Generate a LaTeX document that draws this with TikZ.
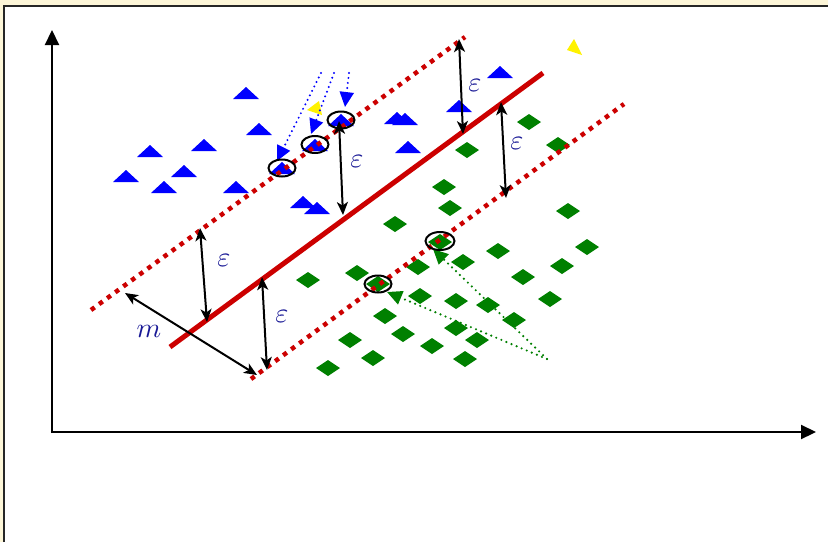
\documentclass[tikz,border=0pt]{standalone}
\usepackage{graphicx}
\usetikzlibrary{arrows.meta}
\definecolor{cream}{RGB}{253,246,216}
\definecolor{svred}{RGB}{204,0,0}
\definecolor{svgreen}{RGB}{0,128,0}
\definecolor{svblue}{RGB}{0,0,255}
\definecolor{labblue}{RGB}{25,25,150}
\newcommand{\biglab}[1]{\scalebox{2.8}{$#1$}}
\tikzset{
  tri/.pic={\fill[svblue] (-13,6)--(13,6)--(0,-6)--cycle;},
  dia/.pic={\fill[svgreen] (-12,0)--(0,-8)--(12,0)--(0,8)--cycle;},
  axisarr/.style={line width=2.2pt,-{Triangle[length=15pt,width=14pt]}},
  redsolid/.style={svred,line width=5pt},
  reddots/.style={svred,line width=4.5pt,dash pattern=on 4.5pt off 5.5pt},
  epsarr/.style={line width=2pt,{Stealth[length=13pt,width=11pt,inset=3.5pt]}-{Stealth[length=13pt,width=11pt,inset=3.5pt]}},
  bluedot/.style={svblue,line width=2.2pt,line cap=round,dash pattern=on 0pt off 5pt,-{Triangle[length=15pt,width=14pt]}},
  greendot/.style={svgreen,line width=2.4pt,line cap=round,dash pattern=on 0pt off 5.5pt,-{Triangle[length=15pt,width=14pt]}},
  ring/.style={draw=black,line width=2pt},
  lab/.style={text=labblue,inner sep=0pt},
}
\begin{document}
\begin{tikzpicture}[x=1pt,y=-1pt]
\useasboundingbox (0,0) rectangle (828,542);
% frame
\fill[cream] (0,0) rectangle (828,542);
\fill[white] (5,7) rectangle (828,542);
\draw[line width=1.8pt,black!85] (4,542) -- (4,6.3) -- (828,6.3);
% axes
\coordinate (o) at (52,432);
\coordinate (ytip) at (52,30);
\coordinate (xtip) at (816,432);
\draw[axisarr] (52,433.1) -- (ytip);
\draw[axisarr] (50.9,432) -- (xtip);
% blue triangles
\foreach \p in {(246,93),(150,151),(204,145),(259,129),(126,176),(184,171),(164,187),(236,187),
  (303,202),(317,208),(397,118),(405,119),(408,147),(459,106),(500,72),
  (282,168),(315,145),(341,120)}
  \pic at \p {tri};
% green diamonds
\foreach \p in {(529,122),(467,150),(558,145),(444,187),(450,208),(568,211),(395,224),
  (440,242),(587,247),(498,251),(463,262),(418,267),(308,280),(357,273),(523,277),
  (562,266),(378,284),(420,296),(456,301),(488,305),(550,299),(385,316),(514,320),
  (403,334),(456,328),(350,340),(477,340),(432,346),(373,358),(465,359),(328,368)}
  \pic at \p {dia};
% yellow triangles
\fill[yellow] (574,39) -- (582,55) -- (567,50) -- cycle;
\fill[yellow] (319,101) -- (322,115) -- (307,110) -- cycle;
% dotted arrows (blue)
\coordinate (b1s) at (321,73); \coordinate (b1e) at (277,161);
\coordinate (b2s) at (334,73); \coordinate (b2e) at (311,134);
\coordinate (b3s) at (349,73); \coordinate (b3e) at (345,107);
\draw[bluedot] (b1s) -- (b1e);
\draw[bluedot] (b2s) -- (b2e);
\draw[bluedot] (b3s) -- (b3e);
% dotted arrows (green)
\coordinate (gs) at (547,359);
\coordinate (g1) at (433,249);
\coordinate (g2) at (387,292);
\draw[greendot] (gs) -- (g1);
\draw[greendot] (gs) -- (g2);
% margin lines
\coordinate (U1) at (91,310); \coordinate (U2) at (465,37);
\coordinate (M1) at (170,347); \coordinate (M2) at (543,73);
\coordinate (L1) at (251,379); \coordinate (L2) at (624,104);
\draw[reddots] (U1) -- (U2);
\draw[reddots] (L1) -- (L2);
\draw[redsolid] (M1) -- (M2);
% epsilon arrows
\coordinate (a1s) at (200,228); \coordinate (a1e) at (207,322);
\coordinate (a2s) at (262,277); \coordinate (a2e) at (267,370);
\coordinate (a3s) at (339,121); \coordinate (a3e) at (343,215);
\coordinate (a4s) at (459,39);  \coordinate (a4e) at (463,134);
\coordinate (a5s) at (501,102); \coordinate (a5e) at (506,198);
\coordinate (ms) at (125,293);  \coordinate (me) at (257,375);
\draw[epsarr] (a1s) -- (a1e);
\draw[epsarr] (a2s) -- (a2e);
\draw[epsarr] (a3s) -- (a3e);
\draw[epsarr] (a4s) -- (a4e);
\draw[epsarr] (a5s) -- (a5e);
\draw[epsarr] (ms) -- (me);
% support vector rings
\draw[ring] (282,168) ellipse [x radius=13.5pt,y radius=8.5pt];
\draw[ring] (315,144.5) ellipse [x radius=13.5pt,y radius=8.5pt];
\draw[ring] (341,120) ellipse [x radius=13.5pt,y radius=8.5pt];
\draw[ring] (440,241) ellipse [x radius=14.5pt,y radius=9pt];
\draw[ring] (378,284) ellipse [x radius=13.5pt,y radius=8.5pt];
% labels
\node[lab] (e1) at (224,260) {\biglab{\varepsilon}};
\node[lab] (e2) at (282,316) {\biglab{\varepsilon}};
\node[lab] (e3) at (357,161) {\biglab{\varepsilon}};
\node[lab] (e4) at (475,85) {\biglab{\varepsilon}};
\node[lab] (e5) at (517,143) {\biglab{\varepsilon}};
\node[lab] (mlab) at (149,331) {\biglab{m}};
\end{tikzpicture}
\end{document}
